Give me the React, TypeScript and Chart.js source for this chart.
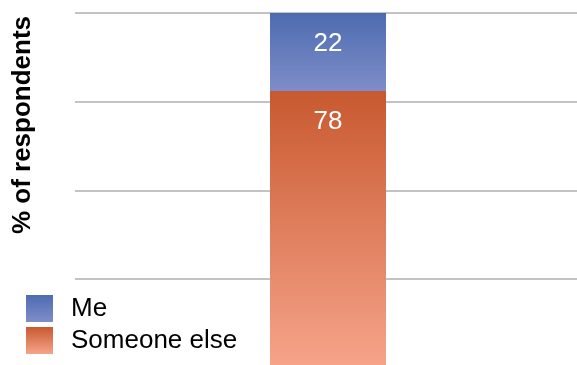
import React, { useEffect, useRef } from "react";
import { Chart, registerables } from "chart.js";

Chart.register(...registerables);

const categories = [""];
const seriesLabels = ["Me", "Someone else"];
const meValues = [22];
const someoneElseValues = [78];
const yTitle = "% of respondents";

const FONT = '"Liberation Sans", Arial, Helvetica, sans-serif';

const blueTop = "#4d6cb0";
const blueBottom = "#7f8dc9";
const orangeTop = "#c85930";
const orangeBottom = "#f7a48b";

function vGrad(ctx: CanvasRenderingContext2D, y0: number, y1: number, c0: string, c1: string) {
  if (!isFinite(y0) || !isFinite(y1) || y0 === y1) return c0;
  const g = ctx.createLinearGradient(0, y0, 0, y1);
  g.addColorStop(0, c0);
  g.addColorStop(1, c1);
  return g;
}

const extrasPlugin = {
  id: "extras",
  afterDatasetsDraw(chart: any) {
    const ctx: CanvasRenderingContext2D = chart.ctx;
    ctx.save();
    ctx.fillStyle = "#ffffff";
    ctx.font = `26px ${FONT}`;
    ctx.textAlign = "center";
    ctx.textBaseline = "middle";
    chart.data.datasets.forEach((ds: any, di: number) => {
      const meta = chart.getDatasetMeta(di);
      meta.data.forEach((bar: any, i: number) => {
        const top = Math.min(bar.y, bar.base);
        ctx.fillText(String(ds.data[i]), bar.x, top + 31);
      });
    });
    ctx.restore();
  },
  afterDraw(chart: any) {
    const ctx: CanvasRenderingContext2D = chart.ctx;
    ctx.save();
    ctx.translate(23, 125);
    ctx.rotate(-Math.PI / 2);
    ctx.font = `bold 26px ${FONT}`;
    ctx.fillStyle = "#000000";
    ctx.textAlign = "center";
    ctx.textBaseline = "middle";
    ctx.fillText(yTitle, 0, 0);
    ctx.restore();

    const items = [
      { label: chart.data.datasets[1].label, c0: blueTop, c1: blueBottom },
      { label: chart.data.datasets[0].label, c0: orangeTop, c1: orangeBottom },
    ];
    ctx.save();
    ctx.font = `26px ${FONT}`;
    ctx.textBaseline = "middle";
    ctx.textAlign = "left";
    items.forEach((it, k) => {
      const y = 295 + k * 32;
      ctx.fillStyle = vGrad(ctx, y, y + 27, it.c0, it.c1);
      ctx.fillRect(26, y, 27, 27);
      ctx.fillStyle = "#000000";
      ctx.fillText(it.label, 71, y + 14);
    });
    ctx.restore();
  },
};

export default function App() {
  const ref = useRef<HTMLCanvasElement | null>(null);

  useEffect(() => {
    if (!ref.current) return;
    const gradFor = (top: number, bottom: number, c0: string, c1: string) => (c: any) => {
      const ch = c.chart;
      const y = ch.scales?.y;
      if (!y) return c0;
      return vGrad(ch.ctx, y.getPixelForValue(top), y.getPixelForValue(bottom), c0, c1);
    };
    const chart = new Chart(ref.current, {
      type: "bar",
      data: {
        labels: categories,
        datasets: [
          {
            label: seriesLabels[1],
            data: someoneElseValues,
            backgroundColor: gradFor(someoneElseValues[0], 0, orangeTop, orangeBottom),
            borderWidth: 0,
            barPercentage: 1,
            categoryPercentage: 116 / 506,
          },
          {
            label: seriesLabels[0],
            data: meValues,
            backgroundColor: gradFor(someoneElseValues[0] + meValues[0], someoneElseValues[0], blueTop, blueBottom),
            borderWidth: 0,
            barPercentage: 1,
            categoryPercentage: 116 / 506,
          },
        ],
      },
      options: {
        animation: false,
        responsive: false,
        layout: { padding: { left: 75, top: 13, right: 0, bottom: 8 } },
        plugins: {
          legend: { display: false },
          tooltip: { enabled: false },
          title: { display: false },
        },
        scales: {
          x: { stacked: true, display: false },
          y: {
            stacked: true,
            min: 0,
            max: 100,
            ticks: { display: false, stepSize: 25 },
            grid: { color: "#c3c3c3", lineWidth: 2, drawTicks: false },
            border: { display: false },
            afterFit: (s: any) => {
              s.width = 0;
            },
          },
        },
      },
      plugins: [extrasPlugin],
    });
    chart.update();
    return () => chart.destroy();
  }, []);

  return (
    <div style={{ position: "fixed", left: 0, top: 0, width: 581, height: 376, background: "#ffffff" }}>
      <canvas ref={ref} width={581} height={376} style={{ display: "block" }} />
    </div>
  );
}
